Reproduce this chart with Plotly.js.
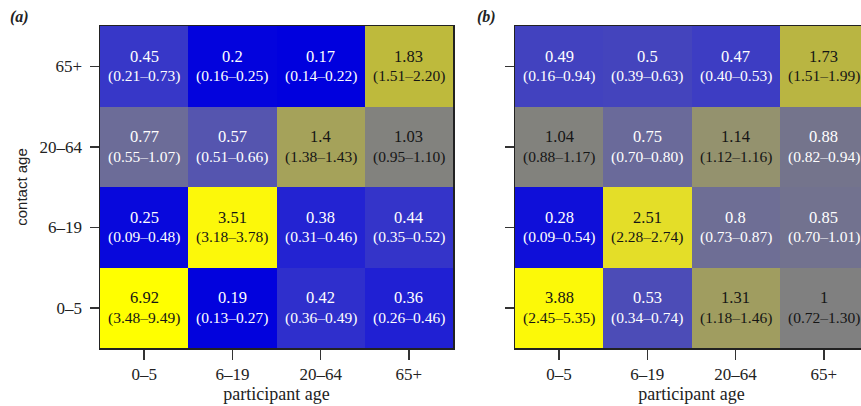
<!DOCTYPE html>
<html>
<head>
<meta charset="utf-8">
<script src="https://cdn.plot.ly/plotly-3.0.1.min.js"></script>
<style>
html,body{margin:0;padding:0;overflow:hidden;background:#fff;}
#chart{width:870px;height:406px;}
</style>
</head>
<body>
<div id="chart"></div>
<script>
// Categories
const participantAge = ['0–5', '6–19', '20–64', '65+'];
const contactAge = ['0–5', '6–19', '20–64', '65+'];

// Panel (a) values: rows = contact age (0–5 .. 65+), cols = participant age
const valuesA = [
  [6.92, 0.19, 0.42, 0.36],
  [0.25, 3.51, 0.38, 0.44],
  [0.77, 0.57, 1.4, 1.03],
  [0.45, 0.2, 0.17, 1.83]
];
const ciA = [
  ['(3.48–9.49)', '(0.13–0.27)', '(0.36–0.49)', '(0.26–0.46)'],
  ['(0.09–0.48)', '(3.18–3.78)', '(0.31–0.46)', '(0.35–0.52)'],
  ['(0.55–1.07)', '(0.51–0.66)', '(1.38–1.43)', '(0.95–1.10)'],
  ['(0.21–0.73)', '(0.16–0.25)', '(0.14–0.22)', '(1.51–2.20)']
];

// Panel (b)
const valuesB = [
  [3.88, 0.53, 1.31, 1],
  [0.28, 2.51, 0.8, 0.85],
  [1.04, 0.75, 1.14, 0.88],
  [0.49, 0.5, 0.47, 1.73]
];
const ciB = [
  ['(2.45–5.35)', '(0.34–0.74)', '(1.18–1.46)', '(0.72–1.30)'],
  ['(0.09–0.54)', '(2.28–2.74)', '(0.73–0.87)', '(0.70–1.01)'],
  ['(0.88–1.17)', '(0.70–0.80)', '(1.12–1.16)', '(0.82–0.94)'],
  ['(0.16–0.94)', '(0.39–0.63)', '(0.40–0.53)', '(1.51–1.99)']
];

const panelLabels = ['(a)', '(b)'];
const xTitle = 'participant age';
const yTitle = 'contact age';

// Colour anchors (value -> colour), blue - grey - yellow
const anchorVals = [0.17, 0.25, 0.38, 0.45, 0.57, 0.77, 0.88, 1.0, 1.05, 1.14, 1.4, 1.83, 2.51, 3.5, 6.92];
const anchorCols = ['rgb(0,0,222)', 'rgb(8,8,220)', 'rgb(35,35,210)', 'rgb(55,55,200)',
  'rgb(85,85,175)', 'rgb(108,108,152)', 'rgb(116,116,140)', 'rgb(128,128,128)',
  'rgb(131,131,124)', 'rgb(148,146,110)', 'rgb(165,162,90)', 'rgb(190,186,60)', 'rgb(228,222,40)',
  'rgb(252,248,10)', 'rgb(255,255,0)'];

const lmin = Math.log(anchorVals[0]);
const lmax = Math.log(anchorVals[anchorVals.length - 1]);
const colorscale = anchorVals.map((v, i) => [(Math.log(v) - lmin) / (lmax - lmin), anchorCols[i]]);
colorscale[0][0] = 0; colorscale[colorscale.length - 1][0] = 1;

function heat(values, xa, ya) {
  return {
    type: 'heatmap',
    x: participantAge, y: contactAge,
    z: values.map(r => r.map(v => Math.log(v))),
    zmin: lmin, zmax: lmax,
    colorscale: colorscale, showscale: false,
    xaxis: xa, yaxis: ya, hoverinfo: 'skip'
  };
}

const W = 870, H = 406;
const serif = 'Liberation Serif, Times New Roman, serif';

const annotations = [];
function addCellText(values, cis, xref, yref) {
  values.forEach((row, i) => row.forEach((v, j) => {
    const col = v >= 0.99 ? '#151515' : '#ffffff';
    annotations.push({x: participantAge[j], y: contactAge[i], xref: xref, yref: yref,
      text: String(v), showarrow: false, yshift: 10,
      font: {family: serif, size: 16.5, color: col}});
    annotations.push({x: participantAge[j], y: contactAge[i], xref: xref, yref: yref,
      text: cis[i][j], showarrow: false, yshift: -10,
      font: {family: serif, size: 15.5, color: col}});
  }));
}
addCellText(valuesA, ciA, 'x', 'y');
addCellText(valuesB, ciB, 'x2', 'y2');

annotations.push({x: 19 / W, y: 1 - 17 / H, xref: 'paper', yref: 'paper', xanchor: 'center', yanchor: 'middle',
  text: '<b><i>' + panelLabels[0] + '</i></b>',
  showarrow: false, font: {family: serif, size: 16, color: '#222'}});
annotations.push({x: 486 / W, y: 1 - 17 / H, xref: 'paper', yref: 'paper', xanchor: 'center', yanchor: 'middle',
  text: '<b><i>' + panelLabels[1] + '</i></b>',
  showarrow: false, font: {family: serif, size: 16, color: '#222'}});

const yDom = [(H - 348) / H, (H - 26) / H];
const axisCommon = {
  type: 'category', showline: true, mirror: true, linecolor: '#222', linewidth: 1.5,
  ticks: 'outside', ticklen: 10, tickwidth: 1.5, tickcolor: '#333',
  showgrid: false, zeroline: false, fixedrange: true,
  tickfont: {family: serif, size: 17, color: '#222'}
};

const layout = {
  width: W, height: H,
  margin: {l: 0, r: 0, t: 0, b: 0},
  paper_bgcolor: '#fff', plot_bgcolor: '#fff',
  showlegend: false,
  xaxis: Object.assign({}, axisCommon, {domain: [100 / W, 453 / W], anchor: 'y',
    ticklabelstandoff: 0,
    title: {text: xTitle, standoff: 4, font: {family: serif, size: 18, color: '#222'}}}),
  yaxis: Object.assign({}, axisCommon, {domain: yDom, anchor: 'x', ticklen: 9,
    ticklabelstandoff: 4,
    title: {text: yTitle, standoff: 8, font: {family: 'Liberation Sans, Arial, sans-serif', size: 15, color: '#222'}}}),
  xaxis2: Object.assign({}, axisCommon, {domain: [515 / W, 868 / W], anchor: 'y2',
    ticklabelstandoff: 0,
    title: {text: xTitle, standoff: 4, font: {family: serif, size: 18, color: '#222'}}}),
  yaxis2: Object.assign({}, axisCommon, {domain: yDom, anchor: 'x2', ticklen: 9, showticklabels: false}),
  annotations: annotations
};

Plotly.newPlot('chart', [heat(valuesA, 'x', 'y'), heat(valuesB, 'x2', 'y2')], layout, {staticPlot: true, displayModeBar: false});
</script>
</body>
</html>
